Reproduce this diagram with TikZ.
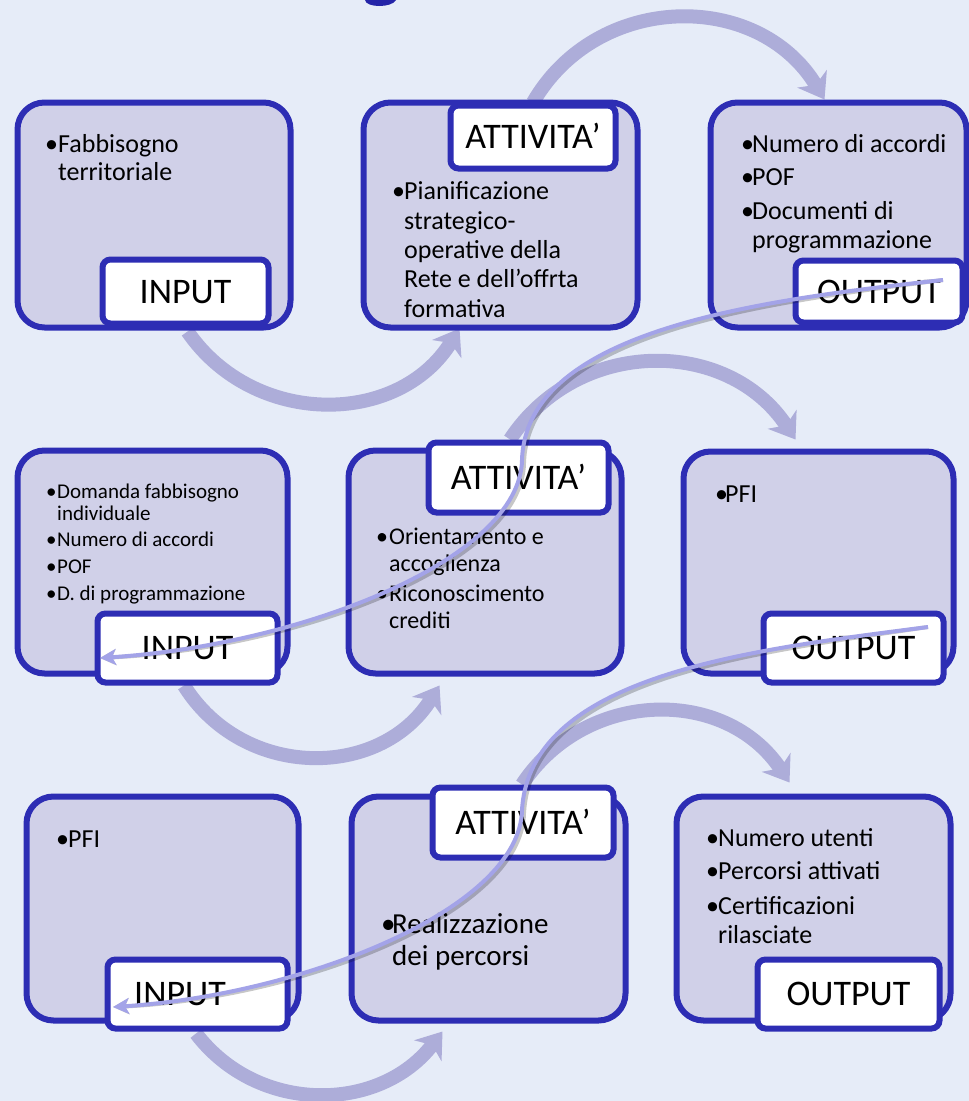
\documentclass[tikz,border=0pt]{standalone}
\usepackage{fontspec}
\setmainfont{Carlito}
\usetikzlibrary{arrows.meta,calc}
\definecolor{bgc}{HTML}{E6ECF8}
\definecolor{boxfill}{HTML}{D0D0E8}
\definecolor{boxline}{HTML}{2D2DB4}
\definecolor{thickc}{HTML}{ADADD9}
\definecolor{thinc}{HTML}{A3A3E8}
\definecolor{titlec}{HTML}{2424A8}
\pgfdeclarelayer{back}
\pgfdeclarelayer{front}
\pgfsetlayers{back,main,front}
\newcommand\bul[1]{\makebox[#1][l]{•}}
\newcommand\ind[1]{\hspace*{#1}}
\begin{document}
\begin{tikzpicture}[x=1pt,y=-1pt,
  pbox/.style={draw=boxline,line width=6pt,fill=boxfill,rounded corners=27pt,anchor=north west,inner sep=0pt},
  plbl/.style={draw=boxline,line width=6pt,fill=white,rounded corners=8pt,anchor=north west,inner sep=0pt,
    font=\fontsize{36}{40}\selectfont,text height=23pt,text depth=0pt},
  ptxt/.style={anchor=base west,align=left,inner sep=0pt},
  bigarrow/.style={draw=thickc,line width=14pt,-{Stealth[length=24pt,width=34pt,inset=7pt]}},
  thinarrow/.style={draw=thinc,line width=4pt,-{Stealth[length=16pt,width=16pt,inset=4pt]}},
  thinshadow/.style={draw=black,opacity=0.22,line width=4pt,-{Stealth[length=16pt,width=16pt,inset=4pt]},shift={(2,3)}}
]
\useasboundingbox (0,0) rectangle (969,1101);
\begin{pgfonlayer}{back}
\fill[bgc] (0,0) rectangle (969,1101);
\end{pgfonlayer}
\fill[titlec] (365,0) .. controls (366,8) and (392,8) .. (396,0) -- cycle;

% boxes
\node[pbox,minimum width=273pt,minimum height=225pt] (a1) at (14.5,99.5) {};
\node[pbox,minimum width=274pt,minimum height=225pt] (a2) at (360.5,99.5) {};
\node[pbox,minimum width=256pt,minimum height=225pt] (a3) at (707.5,99.5) {};
\node[pbox,minimum width=270pt,minimum height=223pt] (b1) at (14.5,447.5) {};
\node[pbox,minimum width=273pt,minimum height=223pt] (b2) at (345.5,447.5) {};
\node[pbox,minimum width=270pt,minimum height=222pt] (b3) at (680.5,448.5) {};
\node[pbox,minimum width=272pt,minimum height=224pt] (c1) at (23.5,793.5) {};
\node[pbox,minimum width=274pt,minimum height=224pt] (c2) at (348.5,793.5) {};
\node[pbox,minimum width=274pt,minimum height=224pt] (c3) at (673.5,793.5) {};

% labels
\node[plbl,minimum width=166pt,minimum height=64pt] (la1) at (99.5,256.5) {INPUT};
\node[plbl,minimum width=165pt,minimum height=63pt] (la2) at (447.5,102.5) {ATTIVITA’};
\node[plbl,minimum width=167pt,minimum height=62pt] (la3) at (792.5,257.5) {OUTPUT};
\node[plbl,minimum width=180pt,minimum height=69pt] (lb1) at (94.5,610.5) {INPUT};
\node[plbl,minimum width=180pt,minimum height=70pt] (lb2) at (425.5,439.5) {ATTIVITA’};
\node[plbl,minimum width=180pt,minimum height=69pt] (lb3) at (760.5,610.5) {OUTPUT};
\node[plbl,minimum width=180pt,minimum height=69pt] (lc1) at (104.5,956.5) {\hspace*{-35pt}INPUT};
\node[plbl,minimum width=181pt,minimum height=70pt] (lc2) at (429.5,784.5) {ATTIVITA’};
\node[plbl,minimum width=182pt,minimum height=69pt] (lc3) at (754.5,956.5) {OUTPUT};

% texts (anchored at the baseline of their last line)
\node[ptxt,font=\fontsize{26}{28}\selectfont] (ta1) at (45,180)
  {\bul{13pt}Fabbisogno\\\ind{13pt}territoriale};
\node[ptxt,font=\fontsize{26}{29.3}\selectfont] (ta2) at (392,317)
  {\bul{12pt}Pianificazione\\\ind{12pt}strategico-\\\ind{12pt}operative della\\\ind{12pt}Rete e dell’offrta\\\ind{12pt}formativa};
\node[ptxt,font=\fontsize{26}{29}\selectfont] (ta3) at (741,248)
  {\bul{11pt}Numero di accordi\\[4pt]\bul{11pt}POF\\[4.5pt]\bul{11pt}Documenti di\\\ind{11pt}programmazione};
\node[ptxt,font=\fontsize{21}{22}\selectfont] (tb1) at (46,600)
  {\bul{11pt}Domanda fabbisogno\\\ind{11pt}individuale\\[4pt]\bul{11pt}Numero di accordi\\[5pt]\bul{11pt}POF\\[5pt]\bul{11pt}D. di programmazione};
\node[ptxt,font=\fontsize{24}{27}\selectfont] (tb2) at (376,628)
  {\bul{13pt}Orientamento e\\\ind{13pt}accoglienza\\[3pt]\bul{13pt}Riconoscimento\\\ind{13pt}crediti};
\node[ptxt,font=\fontsize{26}{29}\selectfont] (tb3) at (715,502) {\bul{10pt}PFI};
\node[ptxt,font=\fontsize{26}{29}\selectfont] (tc1) at (56,847) {\bul{12pt}PFI};
\node[ptxt,font=\fontsize{29}{32}\selectfont] (tc2) at (381,965)
  {\bul{11pt}Realizzazione\\\ind{11pt}dei percorsi};
\node[ptxt,font=\fontsize{26}{29}\selectfont] (tc3) at (706,943)
  {\bul{12pt}Numero utenti\\[4pt]\bul{12pt}Percorsi attivati\\[6pt]\bul{12pt}Certificazioni\\\ind{12pt}rilasciate};

% thick arrows (behind)
\begin{pgfonlayer}{back}
\draw[bigarrow] ($(la1.south)+(2,5)$) .. controls +(66,96) and +(-61,98.5) .. ($(a2.south west)+(99,-2)$);
\draw[bigarrow] ($(la2.north)+(0,0)$) .. controls +(64,-111) and +(-66,-110) .. ($(a3.north west)+(117,0)$);
\draw[bigarrow] ($(lb2.north)+(-8.5,0)$) .. controls +(67.7,-102.7) and +(-67.7,-102.7) .. ($(b3.north west)+(115,-9)$);
\draw[bigarrow] ($(lb1.south)+(-3.5,0)$) .. controls +(59,94.5) and +(-59,94.5) .. ($(b2.south west)+(94,9)$);
\draw[bigarrow] ($(lc2.north)+(-1,0)$) .. controls +(63.7,-96.2) and +(-63.7,-96.2) .. ($(c3.north west)+(116,-11)$);
\draw[bigarrow] ($(lc1.south)+(-1.5,2)$) .. controls +(62.2,81.5) and +(-62.2,81.5) .. ($(c2.south west)+(94,8)$);
\end{pgfonlayer}

% thin arrows (front)
\coordinate (s1) at (943,280);
\coordinate (e1) at (100,658);
\coordinate (s2) at (928,627);
\coordinate (e2) at (113,1007);
\begin{pgfonlayer}{front}
\draw[thinshadow] (s1) .. controls (760,300) and (526,330) .. (522,460) .. controls (520,560) and (300,645) .. (e1);
\draw[thinarrow] (s1) .. controls (760,300) and (526,330) .. (522,460) .. controls (520,560) and (300,645) .. (e1);
\draw[thinshadow] (s2) .. controls (750,650) and (530,675) .. (522,810) .. controls (520,910) and (300,995) .. (e2);
\draw[thinarrow] (s2) .. controls (750,650) and (530,675) .. (522,810) .. controls (520,910) and (300,995) .. (e2);
\end{pgfonlayer}
\end{tikzpicture}
\end{document}
